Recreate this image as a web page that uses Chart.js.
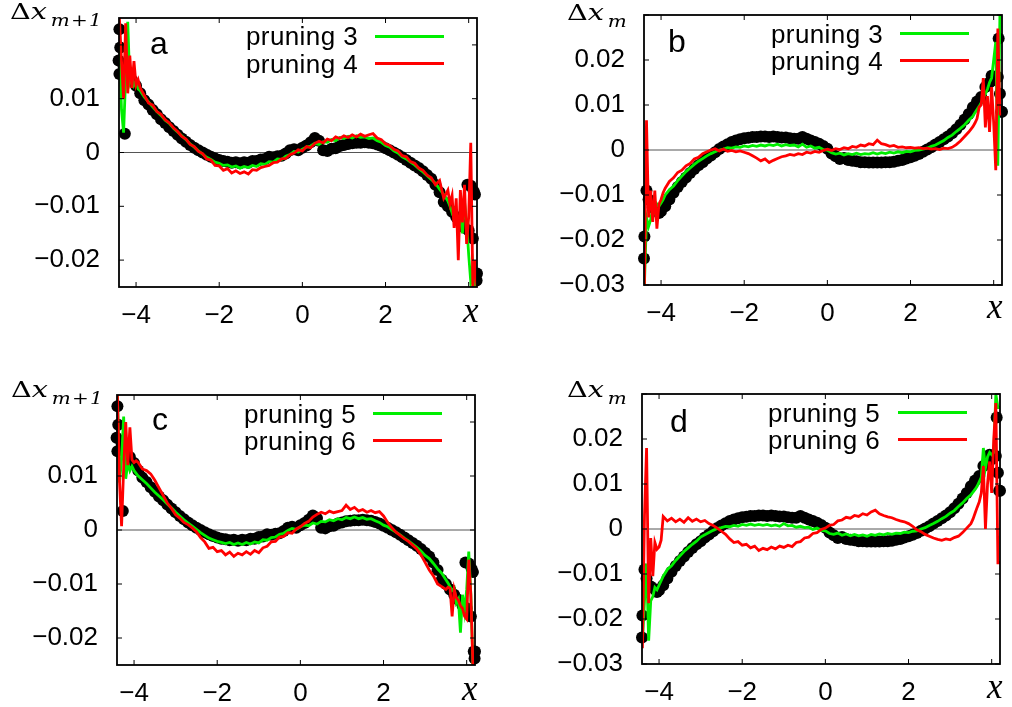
<!DOCTYPE html>
<html>
<head>
<meta charset="utf-8">
<script src="https://cdn.jsdelivr.net/npm/chart.js@4.4.1/dist/chart.umd.min.js"></script>
<style>
  html, body { margin: 0; padding: 0; background: #fff; }
  #page { position: relative; width: 1012px; height: 707px; overflow: hidden; }
  canvas { position: absolute; left: 0; top: 0; }
  .leg { position: absolute; font-family: "Liberation Sans", Arial, sans-serif; font-size: 26px; line-height: 27px; letter-spacing: 0.4px; width: 220px; text-align: right; white-space: nowrap; color: #000; }
  .swatch { position: absolute; height: 3px; width: 69px; }
  .tag { position: absolute; font-family: "Liberation Sans", Arial, sans-serif; font-size: 32px; line-height: 32px; color: #000; }
  .ylab { position: absolute; font-family: "DejaVu Serif", serif; font-size: 23px; line-height: 23px; white-space: nowrap; color: #000; transform: scaleX(1.25); transform-origin: 0 0; }
  .ylab i { font-style: italic; }
  .ylab sub { font-size: 16px; font-style: italic; vertical-align: -7px; line-height: 0; margin-left: 3px; letter-spacing: 1px; }
  .xlab { position: absolute; font-family: "Liberation Serif", serif; font-style: italic; font-size: 35px; line-height: 35px; color: #000; }
</style>
</head>
<body>
<div id="page"></div>
<script>
// ---- data ----
// x positions of the pruning curves (denser at the noisy ends)
const xLine = [
  -4.4, -4.35, -4.3, -4.25, -4.2, -4.15, -4.1, -4.05, -4.0, -3.95, -3.9,
  -3.8, -3.7, -3.6, -3.5, -3.4, -3.3, -3.2, -3.1, -3.0, -2.9,
  -2.8, -2.7, -2.6, -2.5, -2.4, -2.3, -2.2, -2.1, -2.0, -1.9,
  -1.8, -1.7, -1.6, -1.5, -1.4, -1.3, -1.2, -1.1, -1.0, -0.9,
  -0.8, -0.7, -0.6, -0.5, -0.4, -0.3, -0.2, -0.1, 0.0, 0.1,
  0.2, 0.3, 0.4, 0.5, 0.6, 0.7, 0.8, 0.9, 1.0, 1.1,
  1.2, 1.3, 1.4, 1.5, 1.6, 1.7, 1.8, 1.9, 2.0, 2.1,
  2.2, 2.3, 2.4, 2.5, 2.6, 2.7, 2.8, 2.9, 3.0, 3.1,
  3.2, 3.3, 3.4, 3.5,
  3.55, 3.6, 3.65, 3.7, 3.75, 3.8, 3.85, 3.9, 3.95, 4.0, 4.05, 4.1, 4.15, 4.2
];

// x positions of the black dots
const xDots = [
  -4.4, -4.3, -4.2, -4.1, -4.0, -3.9, -3.8, -3.7, -3.6, -3.5,
  -3.4, -3.3, -3.2, -3.1, -3.0, -2.9, -2.8, -2.7, -2.6, -2.5,
  -2.4, -2.3, -2.2, -2.1, -2.0, -1.9, -1.8, -1.7, -1.6, -1.5,
  -1.4, -1.3, -1.2, -1.1, -1.0, -0.9, -0.8, -0.7, -0.6, -0.5,
  -0.4, -0.3, -0.2, -0.1, 0.0, 0.1, 0.2, 0.3, 0.4, 0.5,
  0.6, 0.7, 0.8, 0.9, 1.0, 1.1, 1.2, 1.3, 1.4, 1.5,
  1.6, 1.7, 1.8, 1.9, 2.0, 2.1, 2.2, 2.3, 2.4, 2.5,
  2.6, 2.7, 2.8, 2.9, 3.0, 3.1, 3.2, 3.3, 3.4, 3.5,
  3.6, 3.7, 3.8, 3.9, 4.0, 4.1, 4.2
];

// black dots, Δx_{m+1} (panels a, c)
const blackNext = [
  0.0229, 0.0160, 0.0150, 0.0135, 0.0124, 0.0110, 0.0097, 0.0089, 0.0079, 0.0071,
  0.0062, 0.0055, 0.0047, 0.0040, 0.0033, 0.0026, 0.0020, 0.0014, 0.0009, 0.0004,
  0.0000, -0.0004, -0.0008, -0.0011, -0.0014, -0.0016, -0.0017, -0.0019, -0.0018, -0.0020,
  -0.0018, -0.0019, -0.0016, -0.0016, -0.0013, -0.0012, -0.0008, -0.0009, -0.0007, -0.0006,
  -0.0002, 0.0004, 0.0006, 0.0004, 0.0009, 0.0013, 0.0019, 0.0027, 0.0022, 0.0004,
  0.0003, 0.0007, 0.0008, 0.0012, 0.0014, 0.0016, 0.0017, 0.0018, 0.0018, 0.0019,
  0.0018, 0.0017, 0.0015, 0.0012, 0.0008, 0.0004, 0.0000, -0.0004, -0.0009, -0.0014,
  -0.0019, -0.0024, -0.0029, -0.0035, -0.0042, -0.0049, -0.0060, -0.0074, -0.0092, -0.0100,
  -0.0110, -0.0120, -0.0129, -0.0140, -0.0145, -0.0160, -0.0225
];
const extraXNext = [-4.42, -4.4, -4.38, -4.27, 3.97, 4.05, 4.12, 4.15, 4.17, 4.19];
const extraYNext = [0.0171, 0.0146, 0.0195, 0.0035, -0.0060, -0.0062, -0.0072, -0.0078, -0.0225, -0.0238];

// black dots, Δx_m (panels b, d)
const blackCur = [
  -0.0192, -0.0110, -0.0128, -0.0134, -0.0136, -0.0125, -0.0110, -0.0095, -0.0082, -0.0071,
  -0.0061, -0.0051, -0.0042, -0.0034, -0.0027, -0.0019, -0.0012, -0.0005, 0.0002, 0.0008,
  0.0013, 0.0018, 0.0021, 0.0024, 0.0026, 0.0027, 0.0029, 0.0029, 0.0030, 0.0030,
  0.0029, 0.0030, 0.0029, 0.0028, 0.0028, 0.0026, 0.0025, 0.0025, 0.0029, 0.0025,
  0.0021, 0.0018, 0.0014, 0.0009, 0.0003, -0.0008, -0.0014, -0.0020, -0.0018, -0.0022,
  -0.0024, -0.0025, -0.0027, -0.0027, -0.0028, -0.0028, -0.0028, -0.0028, -0.0027, -0.0027,
  -0.0026, -0.0024, -0.0022, -0.0019, -0.0016, -0.0013, -0.0009, -0.0004, 0.0001, 0.0006,
  0.0012, 0.0018, 0.0024, 0.0030, 0.0037, 0.0046, 0.0056, 0.0068, 0.0080, 0.0095,
  0.0108, 0.0118, 0.0140, 0.0150, 0.0155, 0.0162, 0.0085
];
const extraXCur = [-4.41, -4.35, -4.05, 3.95, 4.12, 4.15, 4.18];
const extraYCur = [-0.0241, -0.0090, -0.0140, 0.0165, 0.0248, 0.0125, 0.0085];

// panel a
const prune3Next = [
  0.0200, 0.0080, 0.0037, 0.0140, 0.0243, 0.0130, 0.0142, 0.0125, 0.0132, 0.0118, 0.0115,
  0.0103, 0.0094, 0.0085, 0.0076, 0.0069, 0.0060, 0.0054, 0.0045, 0.0038, 0.0031,
  0.0024, 0.0016, 0.0010, 0.0003, -0.0003, -0.0009, -0.0013, -0.0018, -0.0020, -0.0024,
  -0.0023, -0.0027, -0.0025, -0.0029, -0.0026, -0.0028, -0.0024, -0.0026, -0.0021, -0.0022,
  -0.0017, -0.0018, -0.0012, -0.0013, -0.0007, -0.0004, 0.0002, 0.0001, 0.0006, 0.0010,
  0.0012, 0.0017, 0.0015, 0.0020, 0.0019, 0.0024, 0.0022, 0.0028, 0.0026, 0.0030,
  0.0027, 0.0031, 0.0028, 0.0029, 0.0026, 0.0027, 0.0022, 0.0019, 0.0013, 0.0010,
  0.0003, -0.0001, -0.0008, -0.0012, -0.0018, -0.0023, -0.0030, -0.0036, -0.0043, -0.0050,
  -0.0057, -0.0068, -0.0078, -0.0090,
  -0.0100, -0.0112, -0.0105, -0.0118, -0.0122, -0.0120, -0.0150, -0.0092, -0.0130, -0.0190, -0.0240, -0.0210, -0.0250, -0.0250
];
const prune4Next = [
  0.0250, 0.0170, 0.0100, 0.0240, 0.0110, 0.0180, 0.0120, 0.0170, 0.0125, 0.0135, 0.0120,
  0.0106, 0.0092, 0.0088, 0.0076, 0.0071, 0.0061, 0.0055, 0.0046, 0.0039, 0.0030,
  0.0025, 0.0015, 0.0011, 0.0002, -0.0002, -0.0012, -0.0014, -0.0024, -0.0025, -0.0033,
  -0.0030, -0.0038, -0.0034, -0.0039, -0.0036, -0.0040, -0.0032, -0.0033, -0.0028, -0.0026,
  -0.0024, -0.0019, -0.0018, -0.0012, -0.0011, -0.0004, -0.0001, 0.0005, 0.0003, 0.0011,
  0.0009, 0.0017, 0.0021, 0.0018, 0.0025, 0.0022, 0.0029, 0.0026, 0.0031, 0.0028,
  0.0033, 0.0029, 0.0034, 0.0030, 0.0033, 0.0035, 0.0027, 0.0024, 0.0016, 0.0013,
  0.0006, 0.0003, -0.0006, -0.0008, -0.0017, -0.0020, -0.0029, -0.0033, -0.0042, -0.0047,
  -0.0060, -0.0052, -0.0085, -0.0070,
  -0.0095, -0.0080, -0.0140, -0.0085, -0.0200, -0.0070, -0.0130, -0.0060, -0.0170, -0.0120, 0.0018, -0.0250, -0.0200, -0.0250
];

// panel b
const prune3Cur = [
  -0.0300, -0.0150, -0.0170, -0.0155, -0.0130, -0.0140, -0.0120, -0.0125, -0.0118, -0.0110, -0.0100,
  -0.0088, -0.0080, -0.0068, -0.0058, -0.0048, -0.0040, -0.0032, -0.0025, -0.0019, -0.0013,
  -0.0008, -0.0004, 0.0000, 0.0002, 0.0005, 0.0004, 0.0007, 0.0006, 0.0009, 0.0007,
  0.0010, 0.0008, 0.0011, 0.0009, 0.0012, 0.0010, 0.0013, 0.0009, 0.0012, 0.0010,
  0.0011, 0.0007, 0.0013, 0.0006, 0.0009, 0.0004, 0.0006, 0.0001, 0.0000, -0.0006,
  -0.0009, -0.0007, -0.0011, -0.0008, -0.0010, -0.0007, -0.0010, -0.0008, -0.0009, -0.0006,
  -0.0009, -0.0006, -0.0008, -0.0005, -0.0007, -0.0004, -0.0006, -0.0003, -0.0004, -0.0001,
  0.0000, 0.0002, 0.0004, 0.0008, 0.0011, 0.0016, 0.0021, 0.0028, 0.0033, 0.0041,
  0.0048, 0.0056, 0.0066, 0.0075,
  0.0083, 0.0090, 0.0097, 0.0105, 0.0115, 0.0125, 0.0135, 0.0150, 0.0160, 0.0200, 0.0240, -0.0035, 0.0300, 0.0300
];
const prune4Cur = [
  -0.0300, 0.0066, -0.0150, -0.0090, -0.0160, -0.0090, -0.0175, -0.0120, -0.0110, -0.0095, -0.0085,
  -0.0070, -0.0062, -0.0050, -0.0045, -0.0035, -0.0030, -0.0020, -0.0016, -0.0008, -0.0004,
  0.0000, 0.0003, -0.0002, 0.0002, -0.0003, -0.0001, -0.0004, -0.0002, -0.0005, -0.0008,
  -0.0013, -0.0018, -0.0024, -0.0020, -0.0028, -0.0023, -0.0019, -0.0015, -0.0013, -0.0010,
  -0.0012, -0.0008, -0.0010, -0.0005, -0.0007, -0.0003, -0.0005, -0.0001, 0.0002, -0.0001,
  0.0003, 0.0001, 0.0005, 0.0003, 0.0008, 0.0006, 0.0011, 0.0009, 0.0014, 0.0012,
  0.0022, 0.0014, 0.0012, 0.0008, 0.0010, 0.0006, 0.0007, 0.0005, 0.0006, 0.0004,
  0.0005, 0.0003, 0.0004, 0.0002, 0.0003, 0.0001, 0.0004, 0.0003, 0.0006, 0.0012,
  0.0020, 0.0030, 0.0040, 0.0052,
  0.0060, 0.0070, 0.0095, 0.0100, 0.0160, 0.0050, 0.0120, 0.0040, 0.0140, 0.0060, -0.0045, 0.0270, 0.0080, 0.0080
];

// panel c
const prune5Next = [
  0.0250, 0.0088, 0.0130, 0.0210, 0.0095, 0.0125, 0.0110, 0.0118, 0.0110, 0.0105, 0.0100,
  0.0093, 0.0086, 0.0078, 0.0070, 0.0063, 0.0056, 0.0048, 0.0041, 0.0033, 0.0026,
  0.0019, 0.0013, 0.0007, 0.0001, -0.0005, -0.0010, -0.0015, -0.0018, -0.0021, -0.0023,
  -0.0025, -0.0023, -0.0027, -0.0024, -0.0027, -0.0023, -0.0026, -0.0022, -0.0024, -0.0018,
  -0.0019, -0.0014, -0.0013, -0.0008, -0.0006, -0.0001, 0.0003, 0.0001, 0.0006, 0.0009,
  0.0008, 0.0013, 0.0011, 0.0016, 0.0015, 0.0019, 0.0017, 0.0021, 0.0019, 0.0023,
  0.0021, 0.0024, 0.0021, 0.0023, 0.0020, 0.0021, 0.0017, 0.0014, 0.0009, 0.0006,
  0.0001, -0.0004, -0.0009, -0.0015, -0.0020, -0.0026, -0.0032, -0.0039, -0.0047, -0.0053,
  -0.0062, -0.0072, -0.0080, -0.0092,
  -0.0098, -0.0105, -0.0112, -0.0108, -0.0135, -0.0128, -0.0190, -0.0120, -0.0150, -0.0110, -0.0040, -0.0120, -0.0250, -0.0250
];
const prune6Next = [
  0.0250, 0.0090, 0.0007, 0.0115, 0.0200, 0.0120, 0.0190, 0.0130, 0.0125, 0.0128, 0.0125,
  0.0113, 0.0110, 0.0104, 0.0092, 0.0078, 0.0064, 0.0050, 0.0040, 0.0028, 0.0022,
  0.0014, 0.0010, 0.0004, -0.0003, -0.0014, -0.0022, -0.0034, -0.0032, -0.0040, -0.0038,
  -0.0046, -0.0041, -0.0049, -0.0043, -0.0046, -0.0040, -0.0045, -0.0038, -0.0042, -0.0033,
  -0.0030, -0.0022, -0.0021, -0.0013, -0.0012, -0.0005, -0.0006, 0.0002, 0.0006, 0.0012,
  0.0016, 0.0024, 0.0029, 0.0033, 0.0030, 0.0035, 0.0032, 0.0034, 0.0036, 0.0046,
  0.0038, 0.0042, 0.0035, 0.0038, 0.0033, 0.0036, 0.0032, 0.0034, 0.0026, 0.0014,
  0.0004, -0.0004, -0.0010, -0.0016, -0.0021, -0.0028, -0.0035, -0.0046, -0.0060, -0.0074,
  -0.0085, -0.0100, -0.0105, -0.0110,
  -0.0106, -0.0108, -0.0160, -0.0110, -0.0125, -0.0130, -0.0140, -0.0145, -0.0160, -0.0165, -0.0055, -0.0120, -0.0250, -0.0250
];

// panel d
const prune5Cur = [
  -0.0250, -0.0160, -0.0077, -0.0248, -0.0160, -0.0150, -0.0130, -0.0135, -0.0125, -0.0115, -0.0105,
  -0.0090, -0.0082, -0.0070, -0.0060, -0.0050, -0.0042, -0.0034, -0.0027, -0.0018, -0.0013,
  -0.0008, -0.0003, 0.0001, 0.0003, 0.0006, 0.0005, 0.0008, 0.0006, 0.0010, 0.0008,
  0.0011, 0.0008, 0.0010, 0.0008, 0.0010, 0.0007, 0.0009, 0.0006, 0.0012, 0.0007,
  0.0008, 0.0004, 0.0006, 0.0003, 0.0004, -0.0001, 0.0002, -0.0003, -0.0004, -0.0010,
  -0.0012, -0.0009, -0.0014, -0.0011, -0.0015, -0.0012, -0.0015, -0.0013, -0.0016, -0.0012,
  -0.0014, -0.0011, -0.0013, -0.0010, -0.0012, -0.0009, -0.0010, -0.0007, -0.0008, -0.0005,
  -0.0004, 0.0000, 0.0003, 0.0008, 0.0012, 0.0017, 0.0023, 0.0028, 0.0035, 0.0041,
  0.0050, 0.0058, 0.0068, 0.0076,
  0.0082, 0.0088, 0.0095, 0.0105, 0.0115, 0.0180, 0.0135, 0.0160, 0.0170, 0.0165, 0.0170, 0.0300, 0.0270, 0.0270
];
const prune6Cur = [
  -0.0265, 0.0030, 0.0180, -0.0165, -0.0020, -0.0105, -0.0030, -0.0045, -0.0040, -0.0025, 0.0028,
  0.0018, 0.0024, 0.0016, 0.0022, 0.0015, 0.0025, 0.0017, 0.0022, 0.0016, 0.0019,
  0.0012, 0.0008, 0.0002, -0.0005, -0.0012, -0.0022, -0.0030, -0.0028, -0.0036, -0.0034,
  -0.0042, -0.0038, -0.0048, -0.0043, -0.0046, -0.0040, -0.0044, -0.0038, -0.0041, -0.0036,
  -0.0039, -0.0030, -0.0028, -0.0020, -0.0018, -0.0010, -0.0008, -0.0001, 0.0002, 0.0008,
  0.0010, 0.0018, 0.0020, 0.0026, 0.0024, 0.0030, 0.0028, 0.0034, 0.0031, 0.0038,
  0.0042, 0.0034, 0.0030, 0.0027, 0.0025, 0.0021, 0.0018, 0.0016, 0.0012, 0.0006,
  -0.0002, -0.0006, -0.0012, -0.0016, -0.0020, -0.0023, -0.0025, -0.0022, -0.0024, -0.0019,
  -0.0016, -0.0008, 0.0002, 0.0012,
  0.0022, 0.0035, 0.0048, 0.0060, 0.0080, 0.0140, 0.0000, 0.0100, 0.0150, 0.0080, 0.0200, 0.0280, -0.0075, -0.0075
];

// ticks
const xTicks = [-4, -2, 0, 2, 4];
const xTickLabels = ['\u22124', '\u22122', '0', '2', ''];
const yTicksNext = [-0.02, -0.01, 0, 0.01, 0.02];
const yTickLabelsNext = ['\u22120.02', '\u22120.01', '0', '0.01', ''];
const yTicksCur = [-0.03, -0.02, -0.01, 0, 0.01, 0.02, 0.03];
const yTickLabelsCur = ['\u22120.03', '\u22120.02', '\u22120.01', '0', '0.01', '0.02', ''];

// ---- drawing ----
function pts(xs, ys) {
  return xs.map(function (x, i) { return { x: x, y: ys[i] }; });
}

// gnuplot-like box: zero axis, inward ticks on all four sides, tick labels
const gnuFrame = {
  id: 'gnuFrame',
  beforeDatasetsDraw: function (chart) {
    const ctx = chart.ctx, a = chart.chartArea;
    const y0 = chart.scales.y.getPixelForValue(0);
    ctx.save();
    ctx.strokeStyle = '#555';
    ctx.lineWidth = 1;
    ctx.beginPath();
    ctx.moveTo(a.left, y0);
    ctx.lineTo(a.right, y0);
    ctx.stroke();
    ctx.restore();
  },
  afterDatasetsDraw: function (chart, args, o) {
    const ctx = chart.ctx, a = chart.chartArea;
    const sx = chart.scales.x, sy = chart.scales.y;
    ctx.save();
    ctx.strokeStyle = '#000';
    ctx.lineWidth = 1;
    ctx.beginPath();
    o.xTicks.forEach(function (v) {
      const px = sx.getPixelForValue(v);
      ctx.moveTo(px, a.bottom); ctx.lineTo(px, a.bottom - 5);
      ctx.moveTo(px, a.top); ctx.lineTo(px, a.top + 5);
    });
    o.yTicks.forEach(function (v) {
      const py = sy.getPixelForValue(v);
      ctx.moveTo(a.left, py); ctx.lineTo(a.left + 5, py);
      ctx.moveTo(a.right, py); ctx.lineTo(a.right - 5, py);
    });
    ctx.stroke();
    ctx.lineWidth = 1.8;
    ctx.strokeRect(a.left, a.top, a.right - a.left, a.bottom - a.top);

    ctx.fillStyle = '#000';
    ctx.font = '26px "Liberation Sans", Arial, sans-serif';
    ctx.textAlign = 'right';
    ctx.textBaseline = 'middle';
    o.yTicks.forEach(function (v, i) {
      ctx.fillText(o.yLabels[i], a.left - 19, sy.getPixelForValue(v));
    });
    ctx.textAlign = 'center';
    o.xTicks.forEach(function (v, i) {
      ctx.fillText(o.xLabels[i], sx.getPixelForValue(v), a.bottom + 29);
    });
    ctx.restore();
  }
};

const panels = [
  { tag: 'a', pad: { left: 119, top: 18, right: 535, bottom: 420 }, yMin: -0.025, yMax: 0.025,
    yTicks: yTicksNext, yLabels: yTickLabelsNext, black: blackNext, ex: extraXNext, ey: extraYNext,
    green: prune3Next, red: prune4Next, names: ['pruning 3', 'pruning 4'],
    legX: 358, legY: [45.7, 73], lineX: 375, lineY: [36, 63], tagPos: [150, 27],
    ylab: [10, 0], sub: 'm+1', xlab: [463, 293] },
  { tag: 'b', pad: { left: 644, top: 15, right: 10, bottom: 422 }, yMin: -0.03, yMax: 0.03,
    yTicks: yTicksCur, yLabels: yTickLabelsCur, black: blackCur, ex: extraXCur, ey: extraYCur,
    green: prune3Cur, red: prune4Cur, names: ['pruning 3', 'pruning 4'],
    legX: 883, legY: [43.3, 70], lineX: 900, lineY: [33.3, 60], tagPos: [668, 25],
    ylab: [567, 1], sub: 'm', xlab: [987, 289] },
  { tag: 'c', pad: { left: 117, top: 395, right: 537, bottom: 42 }, yMin: -0.025, yMax: 0.025,
    yTicks: yTicksNext, yLabels: yTickLabelsNext, black: blackNext, ex: extraXNext, ey: extraYNext,
    green: prune5Next, red: prune6Next, names: ['pruning 5', 'pruning 6'],
    legX: 356, legY: [423.3, 450.7], lineX: 373, lineY: [413.3, 440.7], tagPos: [152, 403],
    ylab: [11, 378], sub: 'm+1', xlab: [462, 671] },
  { tag: 'd', pad: { left: 642, top: 394, right: 12, bottom: 43 }, yMin: -0.03, yMax: 0.03,
    yTicks: yTicksCur, yLabels: yTickLabelsCur, black: blackCur, ex: extraXCur, ey: extraYCur,
    green: prune5Cur, red: prune6Cur, names: ['pruning 5', 'pruning 6'],
    legX: 880, legY: [422.3, 449.3], lineX: 898, lineY: [412.3, 439.3], tagPos: [670, 405],
    ylab: [567, 378], sub: 'm', xlab: [987, 669] }
];

const page = document.getElementById('page');

function addDiv(cls, left, top, html, extra) {
  const d = document.createElement('div');
  d.className = cls;
  d.style.left = left + 'px';
  d.style.top = top + 'px';
  if (extra) Object.assign(d.style, extra);
  d.innerHTML = html;
  page.appendChild(d);
  return d;
}

panels.forEach(function (p) {
  const cv = document.createElement('canvas');
  cv.width = 1012;
  cv.height = 707;
  page.appendChild(cv);

  new Chart(cv.getContext('2d'), {
    type: 'scatter',
    data: {
      datasets: [
        { label: p.names[1], data: pts(xLine, p.red), showLine: true, borderColor: '#ff0000',
          borderWidth: 2.8, pointRadius: 0, tension: 0, order: 1 },
        { label: p.names[0], data: pts(xLine, p.green), showLine: true, borderColor: '#00ee00',
          borderWidth: 2.8, pointRadius: 0, tension: 0, order: 2 },
        { label: 'data', data: pts(xDots, p.black).concat(pts(p.ex, p.ey)), showLine: false,
          backgroundColor: '#000', borderWidth: 0, pointRadius: 6, clip: false, order: 3 }
      ]
    },
    options: {
      responsive: false,
      animation: false,
      devicePixelRatio: 1,
      events: [],
      layout: { padding: p.pad },
      plugins: {
        legend: { display: false },
        tooltip: { enabled: false },
        gnuFrame: { xTicks: xTicks, xLabels: xTickLabels, yTicks: p.yTicks, yLabels: p.yLabels }
      },
      scales: {
        x: { type: 'linear', display: false, min: -4.41, max: 4.2 },
        y: { type: 'linear', display: false, min: p.yMin, max: p.yMax }
      }
    },
    plugins: [gnuFrame]
  });

  // legend: text then sample line, like gnuplot
  addDiv('leg', p.legX - 220, p.legY[0] - 22.5, p.names[0]);
  addDiv('leg', p.legX - 220, p.legY[1] - 22.5, p.names[1]);
  addDiv('swatch', p.lineX, p.lineY[0] - 1.5, '', { background: '#00ee00' });
  addDiv('swatch', p.lineX, p.lineY[1] - 1.5, '', { background: '#ff0000' });

  addDiv('tag', p.tagPos[0], p.tagPos[1], p.tag);
  addDiv('ylab', p.ylab[0], p.ylab[1], '\u0394<i>x</i><sub>' + p.sub + '</sub>');
  addDiv('xlab', p.xlab[0], p.xlab[1], 'x');
});
</script>
</body>
</html>
